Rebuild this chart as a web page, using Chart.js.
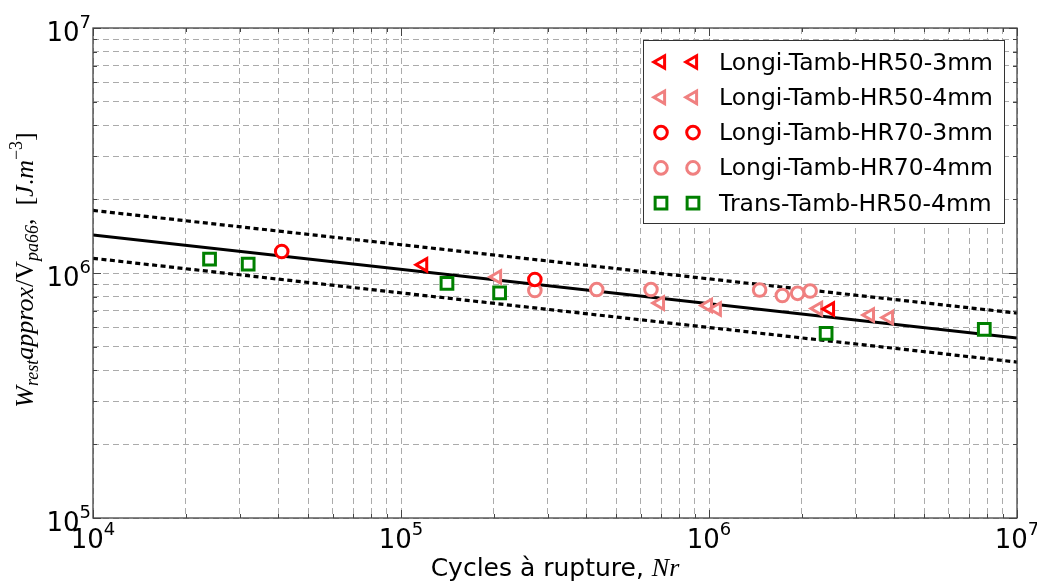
<!DOCTYPE html>
<html>
<head>
<meta charset="utf-8">
<script src="https://cdn.jsdelivr.net/npm/chart.js@4/dist/chart.umd.min.js"></script>
<style>
  html, body { margin: 0; padding: 0; background: #fff; }
  canvas { display: block; }
</style>
</head>
<body>
<canvas id="chart" width="1037" height="581"></canvas>
<script>
// cycles to failure (Nr) and residual energy density (J/m3) per test series
const hr50_3mm_N = [1.18e5, 2.47e6];
const hr50_3mm_W = [1.08e6, 7.13e5];

const hr50_4mm_N = [2.05e5, 6.93e5, 9.92e5, 1.06e6, 2.26e6, 3.33e6, 3.84e6];
const hr50_4mm_W = [9.63e5, 7.54e5, 7.37e5, 7.13e5, 7.16e5, 6.74e5, 6.58e5];

const hr70_3mm_N = [4.10e4, 2.72e5];
const hr70_3mm_W = [1.224e6, 9.41e5];

const hr70_4mm_N = [2.72e5, 4.32e5, 6.48e5, 1.46e6, 1.73e6, 1.94e6, 2.13e6];
const hr70_4mm_W = [8.48e5, 8.56e5, 8.56e5, 8.52e5, 8.09e5, 8.26e5, 8.44e5];

const trans_4mm_N = [2.39e4, 3.19e4, 1.41e5, 2.09e5, 2.40e6, 7.83e6];
const trans_4mm_W = [1.14e6, 1.088e6, 9.08e5, 8.29e5, 5.67e5, 5.89e5];

// power-law fit and its scatter band (end points at the axis limits)
const fitN = [1e4, 1e7];
const fitW = [1.43e6, 5.43e5];
const upperW = [1.80e6, 6.86e5];
const lowerW = [1.148e6, 4.33e5];

const seriesLabels = [
  'Longi-Tamb-HR50-3mm',
  'Longi-Tamb-HR50-4mm',
  'Longi-Tamb-HR70-3mm',
  'Longi-Tamb-HR70-4mm',
  'Trans-Tamb-HR50-4mm'
];

const xDecades = [4, 5, 6, 7];
const yDecades = [5, 6, 7];
const xTitle = 'Cycles à rupture, ';

const SERIF = '"Liberation Serif", "DejaVu Serif", serif';
const SANS = '"DejaVu Sans", sans-serif';

const zip = (xs, ys) => xs.map((x, i) => ({ x: x, y: ys[i] }));

function decadeTicks(decs) {
  const out = [];
  for (let i = 0; i < decs.length - 1; i++) {
    for (let m = 1; m <= 9; m++) {
      out.push({ value: m * Math.pow(10, decs[i]), major: m === 1 });
    }
  }
  out.push({ value: Math.pow(10, decs[decs.length - 1]), major: true });
  return out;
}

function marker(label, N, W, color, style, radius, rotation) {
  return {
    label: label,
    data: zip(N, W),
    pointStyle: style,
    pointRotation: rotation,
    pointRadius: radius,
    pointHoverRadius: radius,
    pointBorderWidth: 3,
    pointHoverBorderWidth: 3,
    pointBorderColor: color,
    pointBackgroundColor: '#ffffff',
    borderColor: color,
    backgroundColor: '#ffffff',
    order: 0
  };
}

function fitLine(W, dash, width) {
  return {
    label: '',
    data: zip(fitN, W),
    showLine: true,
    borderColor: '#000000',
    borderWidth: width,
    borderDash: dash,
    pointRadius: 0,
    pointHoverRadius: 0,
    inLegend: false,
    order: 1
  };
}

// text with sub/superscripts, laid out left to right, centred on x
function drawRich(ctx, segs, x, y) {
  let total = 0;
  segs.forEach(s => { ctx.font = s.font; s.w = ctx.measureText(s.text).width; total += s.w; });
  let cx = x - total / 2;
  segs.forEach(s => {
    ctx.font = s.font;
    ctx.fillText(s.text, cx, y + (s.dy || 0));
    cx += s.w;
  });
}

function powLabel(ctx, exp, x, y, align) {
  const base = '10', sup = String(exp);
  ctx.font = '26px ' + SANS;
  const wb = ctx.measureText(base).width;
  ctx.font = '18px ' + SANS;
  const ws = ctx.measureText(sup).width;
  let left = align === 'right' ? x - wb - ws : x - (wb + ws) / 2;
  ctx.font = '26px ' + SANS;
  ctx.fillText(base, left, y);
  ctx.font = '18px ' + SANS;
  ctx.fillText(sup, left + wb, y - 13);
}

const decorations = {
  id: 'decorations',
  afterDraw(chart) {
    const ctx = chart.ctx;
    const ca = chart.chartArea;
    const xs = chart.scales.x, ys = chart.scales.y;
    ctx.save();

    // frame
    ctx.strokeStyle = '#444';
    ctx.lineWidth = 1.3;
    ctx.strokeRect(ca.left, ca.top, ca.right - ca.left, ca.bottom - ca.top);

    // inward tick marks on all four sides
    ctx.lineWidth = 1;
    ctx.beginPath();
    xs.ticks.forEach(t => {
      const px = Math.round(xs.getPixelForValue(t.value)) + 0.5;
      const len = t.major ? 8 : 4;
      ctx.moveTo(px, ca.bottom); ctx.lineTo(px, ca.bottom - len);
      ctx.moveTo(px, ca.top); ctx.lineTo(px, ca.top + len);
    });
    ys.ticks.forEach(t => {
      const py = Math.round(ys.getPixelForValue(t.value)) + 0.5;
      const len = t.major ? 8 : 4;
      ctx.moveTo(ca.left, py); ctx.lineTo(ca.left + len, py);
      ctx.moveTo(ca.right, py); ctx.lineTo(ca.right - len, py);
    });
    ctx.stroke();

    // tick labels
    ctx.fillStyle = '#000';
    ctx.textBaseline = 'alphabetic';
    ctx.textAlign = 'left';
    yDecades.forEach(e => {
      const py = ys.getPixelForValue(Math.pow(10, e));
      powLabel(ctx, e, ca.left - 2, py + 13, 'right');
    });
    xDecades.forEach(e => {
      const px = xs.getPixelForValue(Math.pow(10, e));
      powLabel(ctx, e, px, ca.bottom + 30, 'center');
    });

    // axis titles
    drawRich(ctx, [
      { text: xTitle, font: '25px ' + SANS },
      { text: 'Nr', font: 'italic 26px ' + SERIF }
    ], (ca.left + ca.right) / 2, 576);

    ctx.save();
    ctx.translate(33, 270);
    ctx.rotate(-Math.PI / 2);
    drawRich(ctx, [
      { text: 'W', font: 'italic 26px ' + SERIF },
      { text: 'rest', font: 'italic 18px ' + SERIF, dy: 5 },
      { text: 'approx', font: 'italic 26px ' + SERIF },
      { text: '/', font: '26px ' + SERIF },
      { text: 'V', font: '26px ' + SERIF },
      { text: 'pa66', font: 'italic 18px ' + SERIF, dy: 5 },
      { text: ',  [', font: '26px ' + SERIF },
      { text: 'J', font: 'italic 26px ' + SERIF },
      { text: '.', font: '26px ' + SERIF },
      { text: 'm', font: 'italic 26px ' + SERIF },
      { text: '\u22123', font: '18px ' + SERIF, dy: -11 },
      { text: ']', font: '26px ' + SERIF }
    ], 0, 0);
    ctx.restore();

    // legend with two markers per entry
    const box = { x: 643, y: 40, w: 361, h: 183 };
    ctx.fillStyle = '#fff';
    ctx.fillRect(box.x, box.y, box.w, box.h);
    ctx.strokeStyle = '#333';
    ctx.lineWidth = 1;
    ctx.strokeRect(box.x + 0.5, box.y + 0.5, box.w, box.h);

    const entries = chart.data.datasets.filter(d => d.inLegend !== false);
    entries.forEach((d, i) => {
      const ry = 62 + i * 35.3;
      [661, 693].forEach(mx => {
        ctx.strokeStyle = d.pointBorderColor;
        ctx.fillStyle = d.pointBackgroundColor;
        ctx.lineWidth = d.pointBorderWidth;
        Chart.helpers.drawPoint(ctx, {
          pointStyle: d.pointStyle,
          rotation: d.pointRotation,
          radius: d.pointRadius,
          borderWidth: d.pointBorderWidth
        }, mx, ry);
      });
      ctx.fillStyle = '#000';
      ctx.font = '23.5px ' + SANS;
      ctx.fillText(d.label, 719, ry + 7.5);
    });

    ctx.restore();
  }
};

const gridStyle = { color: '#ababab', lineWidth: 1, drawTicks: false };

new Chart(document.getElementById('chart'), {
  type: 'scatter',
  data: {
    datasets: [
      marker(seriesLabels[0], hr50_3mm_N, hr50_3mm_W, '#ff0000', 'triangle', 7.2, -90),
      marker(seriesLabels[1], hr50_4mm_N, hr50_4mm_W, '#f08080', 'triangle', 7.2, -90),
      marker(seriesLabels[2], hr70_3mm_N, hr70_3mm_W, '#ff0000', 'circle', 6.3, 0),
      marker(seriesLabels[3], hr70_4mm_N, hr70_4mm_W, '#f08080', 'circle', 6.3, 0),
      marker(seriesLabels[4], trans_4mm_N, trans_4mm_W, '#008000', 'rect', 8.3, 0),
      fitLine(fitW, [], 3),
      fitLine(upperW, [5, 3.5], 3.2),
      fitLine(lowerW, [5, 3.5], 3.2)
    ]
  },
  options: {
    responsive: false,
    animation: false,
    devicePixelRatio: 1,
    layout: { padding: { top: 28, right: 20, left: 0, bottom: 0 } },
    plugins: {
      legend: { display: false },
      tooltip: { enabled: false }
    },
    scales: {
      x: {
        type: 'logarithmic',
        min: 1e4,
        max: 1e7,
        afterBuildTicks: s => { s.ticks = decadeTicks(xDecades); },
        afterFit: s => { s.height = 63; },
        ticks: { display: false },
        grid: gridStyle,
        border: { display: false, dash: [6, 4] }
      },
      y: {
        type: 'logarithmic',
        min: 1e5,
        max: 1e7,
        afterBuildTicks: s => { s.ticks = decadeTicks(yDecades); },
        afterFit: s => { s.width = 93; },
        ticks: { display: false },
        grid: gridStyle,
        border: { display: false, dash: [6, 4] }
      }
    }
  },
  plugins: [decorations]
});
</script>
</body>
</html>
